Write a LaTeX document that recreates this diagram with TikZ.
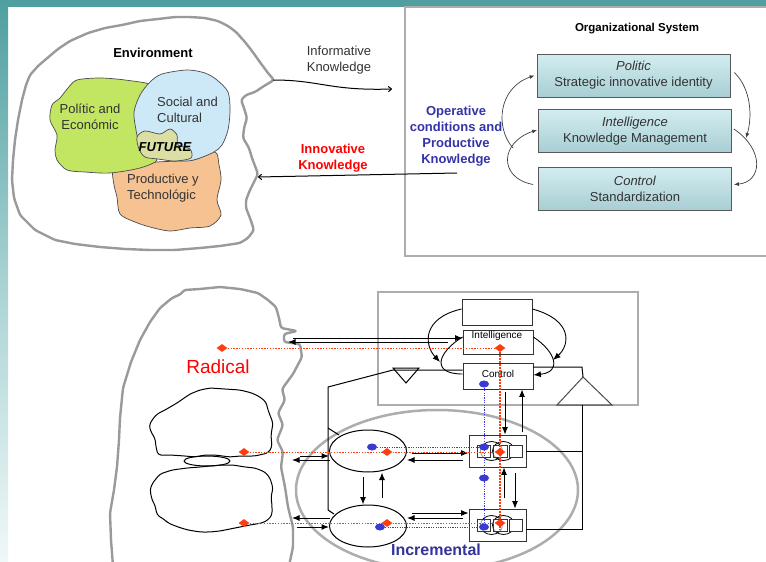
\documentclass[tikz,border=0pt]{standalone}
\usepackage{fontspec}
\setmainfont{Liberation Sans}
\usetikzlibrary{arrows.meta,shapes.geometric}

\definecolor{bandteal}{HTML}{4F9FA0}
\definecolor{bandmid}{HTML}{A9D2D3}
\definecolor{bandlow}{HTML}{F0F8F8}
\definecolor{cloudgray}{HTML}{9A9A9A}
\definecolor{boxgray}{HTML}{ADADAD}
\definecolor{peGreen}{HTML}{C2E562}
\definecolor{scBlue}{HTML}{CDE8F7}
\definecolor{ptOrange}{HTML}{F7C291}
\definecolor{futOlive}{HTML}{DCDFA4}
\definecolor{opBlue}{HTML}{3434A8}
\definecolor{incBlue}{HTML}{333399}
\definecolor{dotRed}{HTML}{FF3C10}
\definecolor{dotBlue}{HTML}{3A3AD0}
\definecolor{boxTop}{HTML}{D3EDF0}
\definecolor{boxBot}{HTML}{A8CED3}
\definecolor{txtgray}{HTML}{333333}

\begin{document}
\begin{tikzpicture}[x=1pt,y=-1pt,
  cloudline/.style={draw=cloudgray, line width=2.4pt, line join=round, rounded corners=2.5pt},
  blobline/.style={draw=black!70, line width=0.7pt},
  brainline/.style={draw=black, line width=1pt, rounded corners=3pt},
  blobtxt/.style={text=txtgray, font=\fontsize{13}{16}\selectfont, align=left, inner sep=0pt},
  orgbox/.style={draw=black!65, line width=0.8pt, minimum width=193pt, minimum height=43pt,
    inner sep=0pt, align=center, text=txtgray, font=\fontsize{13}{16}\selectfont,
    top color=boxTop, bottom color=boxBot},
  garr/.style={draw=black!75, line width=0.7pt, -{Latex[length=5pt,width=4pt]}},
  kline/.style={draw=black, line width=1pt},
  karr/.style={draw=black, line width=1pt, -{Latex[length=7.5pt,width=6pt]}},
  sysbox/.style={draw=black!80, line width=0.8pt, inner sep=0pt, fill=white},
  systxt/.style={font=\fontsize{10}{12}\selectfont, inner sep=0pt},
  rdia/.style={diamond, fill=dotRed, inner sep=0pt, minimum width=11pt, minimum height=8pt},
  bdot/.style={ellipse, fill=dotBlue, inner sep=0pt, minimum width=10pt, minimum height=7pt},
  rdots/.style={draw=dotRed, line width=0.8pt, dash pattern=on 1.4pt off 1.4pt},
  bdots/.style={draw=dotBlue, line width=0.7pt, dash pattern=on 1.2pt off 1.2pt},
  trio/.pic={
    \draw[black, line width=0.8pt] (-6,0) ellipse [x radius=11pt, y radius=9.5pt];
    \draw[black, line width=0.8pt] (6,0) ellipse [x radius=11pt, y radius=9.5pt];
    \draw[black!80, line width=0.7pt, fill=white, fill opacity=0.6] (-20.5,-6) rectangle (-7.5,6);
    \draw[black!80, line width=0.7pt, fill=white, fill opacity=0.6] (-4.5,-6) rectangle (9.5,6);
    \draw[black!80, line width=0.7pt, fill=white] (11.5,-6) rectangle (24.5,6);
  }
]
\useasboundingbox (0,0) rectangle (766,562);
\fill[white] (0,0) rectangle (766,562);

% slide frame bands
\fill[bandteal] (0,0) rectangle (766,6.5);
\shade[top color=bandteal, bottom color=bandlow, middle color=bandmid] (0,0) rectangle (8,562);

%% ---------- upper diagram: environment and organizational system ----------
% environment cloud
\draw[cloudline] (30,75)--(38,66)--(45,60)--(58,49)--(70,41)--(88,33)--(105,28)--(122,25)
  --(140,21)--(158,19)--(175,17)--(190,17)--(205,18)--(218,21)--(228,26)--(236,32)--(245,42)
  --(252,51)--(262,65)--(268,73)--(274,80)--(264,86)--(255,92)--(246,95)--(241,100)--(244,108)
  --(247,118)--(244,128)--(243,138)--(249,148)--(252,158)--(258,174)--(254,182)--(250,190)
  --(246,200)--(246,208)--(250,218)--(254,230)--(248,238)--(240,243)--(220,246)--(200,248)
  --(175,250)--(150,250)--(125,249)--(100,247)--(75,244)--(55,240)--(35,230)--(20,215)
  --(14,198)--(12,180)--(13,160)--(15,140)--(18,120)--(22,100)--(26,85)--cycle;

% overlapping domains
\fill[ptOrange] plot[smooth cycle, tension=0.5] coordinates {
  (113,170) (125,166) (157,162) (193,160) (215,152) (219,165) (221,180) (217,200)
  (221,215) (210,226) (190,228) (170,231) (150,227) (135,222) (120,214) (117,197) (114,185)};
\draw[blobline] plot[smooth cycle, tension=0.5] coordinates {
  (113,170) (125,166) (157,162) (193,160) (215,152) (219,165) (221,180) (217,200)
  (221,215) (210,226) (190,228) (170,231) (150,227) (135,222) (120,214) (117,197) (114,185)};
\filldraw[blobline, fill=peGreen] plot[smooth cycle, tension=0.5] coordinates {
  (77,80) (100,78) (125,80) (153,85) (150,95) (140,100) (136,115) (138,135) (145,150)
  (157,160) (140,168) (110,173) (85,172) (67,170) (57,160) (55,150) (57,135) (50,120)
  (52,105) (60,98) (68,88)};
\filldraw[blobline, fill=scBlue] plot[smooth cycle, tension=0.5] coordinates {
  (150,82) (162,74) (187,70) (205,73) (217,80) (228,92) (230,110) (228,130) (222,145)
  (214,152) (200,158) (187,161) (165,159) (150,155) (140,145) (136,130) (134,112) (140,95)};
\filldraw[blobline, fill=futOlive] plot[smooth cycle, tension=0.5] coordinates {
  (137,137) (145,131) (160,134) (170,129) (177,135) (178,145) (190,149) (191,158)
  (175,161) (158,159) (145,157) (139,149)};

\node[font=\bfseries\fontsize{13}{16}\selectfont] (envT) at (153,53) {Environment};
\node[blobtxt, align=center] (peT) at (90,117) {Polític and\\Económic};
\node[blobtxt, anchor=west] (scT) at (157,110) {Social and\\Cultural};
\node[blobtxt, anchor=west] (ptT) at (127,188) {Productive y\\Technológic};
\node[font=\bfseries\itshape\fontsize{13}{16}\selectfont, inner sep=0pt] (futT) at (165,147) {FUTURE};

% organizational system frame
\draw[boxgray, line width=2pt] (405,7) rectangle (780,256);
\node[font=\bfseries\fontsize{11.5}{14}\selectfont] (orgT) at (637,29) {Organizational System};

\node[orgbox] (pol) at (633.5,75.5) {\textit{Politic}\\Strategic innovative identity};
\node[orgbox] (int) at (635,131) {\textit{Intelligence}\\Knowledge Management};
\node[orgbox] (ctl) at (635,188.5) {\textit{Control}\\Standardization};

% cycle between the three functions
\draw[garr] ([xshift=4pt,yshift=3pt]pol.east) .. controls (752,90) and (752,118) .. (746,138);
\draw[garr] ([xshift=2pt,yshift=2pt]int.east) .. controls (765,150) and (762,182) .. ([xshift=2pt,yshift=4pt]ctl.east);
\draw[garr] ([xshift=-5pt,yshift=4pt]ctl.west) .. controls (498,178) and (500,142) .. ([xshift=-1pt,yshift=1pt]int.west);
\coordinate (opStart) at (513,148);
\draw[garr] (opStart) .. controls (495,128) and (498,88) .. ([xshift=-2pt]pol.west);

\node[font=\bfseries\fontsize{13}{16}\selectfont, text=opBlue, align=center] (opT) at (456,136)
  {Operative\\conditions and\\Productive\\Knowledge};

% knowledge exchange
\coordinate (infA) at (273,80);
\coordinate (infB) at (392,89);
\draw[draw=black, line width=1pt, -{To[length=4pt,width=6pt]}] (infA) .. controls (320,80) and (330,91) .. (infB);
\node[text=txtgray, font=\fontsize{13}{16}\selectfont, align=center] (infT) at (339,60) {Informative\\Knowledge};

\coordinate (innA) at (457,173);
\coordinate (innB) at (258,177);
\draw[draw=black, line width=1pt, -{To[length=4pt,width=6pt]}] (innA) -- (innB);
\node[text=red, font=\bfseries\fontsize{13}{16}\selectfont, align=center] (innT) at (333,158) {Innovative\\Knowledge};

%% ---------- lower diagram: radical and incremental innovation ----------
% head outline
\draw[cloudline] (113,566)--(111,540)--(110,513)--(114,490)--(117,467)
  --(119,440)--(120,418)--(123,388)--(131,362)--(140,340)--(150,322)--(160,308)--(172,298)
  --(181,294)--(184,290)--(200,289)--(220,287)--(240,289)--(258,293)--(268,300)--(276,307)
  --(279,318)--(281,328)--(297,331)--(284,334)--(284,342)--(300,344)--(302,357)--(293,374)
  --(282,389)--(285,400)--(278,413)--(283,425)--(277,440)--(283,452)--(281,467)--(285,487)
  --(288,507)--(293,527)--(293,547)--(289,566);

% two brain halves
\draw[brainline] (165,410)--(177,403)--(190,394)--(200,390)--(210,388)--(225,389)--(240,390)
  --(252,393)--(260,397)--(266,402)--(268,410)--(273,423)--(271,435)--(272,447)--(268,453)
  --(255,456)--(240,456)--(230,457)--(215,455)--(205,455)--(195,457)--(185,456)--(170,455)
  --(158,455)--(156,447)--(155,438)--(152,434)--(149,426)--(152,420)--(157,414)--cycle;
\draw[brainline] (160,474)--(172,470)--(187,468)--(200,467)--(210,466)--(222,465)--(233,465)
  --(245,467)--(255,468)--(265,472)--(270,478)--(273,488)--(271,497)--(272,505)--(272,515)
  --(268,520)--(262,523)--(250,525)--(240,527)--(230,529)--(220,531)--(210,532)--(200,532)
  --(188,530)--(178,527)--(168,523)--(165,520)--(157,515)--(155,505)--(152,500)--(150,490)
  --(152,484)--(155,480)--cycle;
\draw[black, line width=1pt] (207,461) ellipse [x radius=23pt, y radius=5pt];

\node[text=red, font=\fontsize{19}{22}\selectfont] (radT) at (218,367) {Radical};

% incremental region
\draw[boxgray, line width=2.5pt] (437,490) ellipse [x radius=141pt, y radius=80pt];
\node[text=incBlue, font=\bfseries\fontsize{16}{19}\selectfont] (incT) at (436,550) {Incremental};

% system frame
\draw[boxgray, line width=2.5pt] (378,292) rectangle (638,405);
\node[sysbox, minimum width=70pt, minimum height=26pt] (sPol) at (497,312) {};
\node[sysbox, minimum width=70pt, minimum height=24pt] (sInt) at (498,342) {};
\node[sysbox, minimum width=70pt, minimum height=26pt] (sCtl) at (498,376) {};
\node[systxt] (sIntT) at (497,336) {Intelligence};
\node[systxt] (sCtlT) at (498,374) {Control};

\draw[karr, line width=0.9pt] ([yshift=3pt]sPol.west) .. controls (422,318) and (424,345) .. (440,362);
\draw[kline, line width=0.9pt] ([yshift=5pt]sInt.west) .. controls (438,352) and (430,374) .. ([yshift=2pt]sCtl.west);
\draw[karr, line width=0.9pt] ([yshift=3pt]sPol.east) .. controls (573,320) and (570,345) .. (553,360);
\draw[karr, line width=0.9pt] ([yshift=5pt]sInt.east) .. controls (556,352) and (562,372) .. ([yshift=1pt]sCtl.east);

% head <-> intelligence
\coordinate (hiA) at (293,338);
\coordinate (hiB) at (448,342);
\coordinate (hiC) at (288,342);
\draw[karr] (hiA) -- (sInt.west |- hiA);
\draw[karr] (hiB) -- (hiC);

% feedback triangles
\coordinate (tdL) at (393,368);
\coordinate (tdR) at (419,368);
\coordinate (tdB) at (406,383);
\draw[kline] (tdL) -- (tdR) -- (tdB) -- cycle;
\coordinate (tuL) at (557,405);
\coordinate (tuR) at (612,405);
\coordinate (tuT) at (583,377);
\draw[black!70, line width=1pt] (tuL) -- (tuR) -- (tuT) -- cycle;

% incremental units
\node[draw=black, line width=1pt, ellipse, minimum width=77pt, minimum height=42pt, inner sep=0pt] (e1) at (368,451) {};
\node[draw=black, line width=1pt, ellipse, minimum width=77pt, minimum height=42pt, inner sep=0pt] (e2) at (368,526) {};
\node[draw=black!80, line width=0.8pt, minimum width=57pt, minimum height=32pt, inner sep=0pt] (b1) at (497.5,451) {};
\node[draw=black!80, line width=0.8pt, minimum width=57pt, minimum height=32pt, inner sep=0pt] (b2) at (497.5,525) {};
\pic at (b1.center) {trio};
\pic at (b2.center) {trio};

% feedback wiring
\coordinate (vTop) at (328,387);
\coordinate (vBot) at (328,510);
\draw[kline] (sCtl.west |- 0,370) -- (tdL |- 0,370) -- (vTop) -- (vBot) -- (334,514);
\draw[kline] (328,428) -- (339,435);
\coordinate (ctlR) at (533,367);
\coordinate (feedC) at (582,367);
\draw[kline] (ctlR) -- (feedC) -- (tuT);
\coordinate (feedD) at (582,529);
\draw[kline] (582,405) -- (feedD) -- (b2.east |- feedD);
\draw[kline] (b1.east) -- (582,451);

% exchange arrows
\draw[karr] (300,456) -- (e1.west |- 0,456);
\draw[karr] (330,460) -- (292,460);
\draw[karr] (330,518) -- (292,518);
\draw[karr] (297,527) -- (e2.west |- 0,527);
\draw[karr] (412,453) -- (b1.west |- 0,453);
\draw[karr] (463,460) -- (e1.east |- 0,460);
\draw[karr] (412,513) -- (b2.west |- 0,513);
\draw[karr] (463,518) -- (e2.east |- 0,518);
\draw[karr] (363,477) -- (e2.north -| 363,0);
\draw[karr] (382,498) -- (e1.south -| 382,0);
\draw[karr] (505,392) -- (b1.north -| 505,0);
\draw[karr] (522,432) -- (sCtl.south -| 522,0);
\draw[karr] (504,498) -- (b1.south -| 504,0);
\draw[karr] (515,473) -- (b2.north -| 515,0);

% knowledge traces
\node[rdia] (rH) at (222,348) {};
\node[rdia] (rI) at (500,348) {};
\node[rdia] (rU1) at (244,452) {};
\node[rdia] (rE1) at (387,452) {};
\node[rdia] (rB1) at (500,452) {};
\node[rdia] (rU2) at (244,523) {};
\node[rdia] (rE2) at (387,523) {};
\node[rdia] (rB2) at (500,523) {};
\node[bdot] (bC) at (484,384) {};
\node[bdot] (bE1) at (372,447) {};
\node[bdot] (bB1) at (484,447) {};
\node[bdot] (bM) at (484,478) {};
\node[bdot] (bE2) at (380,527) {};
\node[bdot] (bB2) at (484,527) {};

\draw[rdots] (rH) -- (rI);
\draw[rdots] (rU1) -- (rB1);
\draw[rdots] (rU2) -- (rB2);
\draw[draw=dotRed, line width=2.2pt, dash pattern=on 2pt off 1pt] (rI) -- (500,530);
\draw[bdots] (bE1) -- (bB1);
\draw[bdots] (bE2) -- (bB2);
\draw[bdots] (bC) -- (bB2);
\end{tikzpicture}
\end{document}
